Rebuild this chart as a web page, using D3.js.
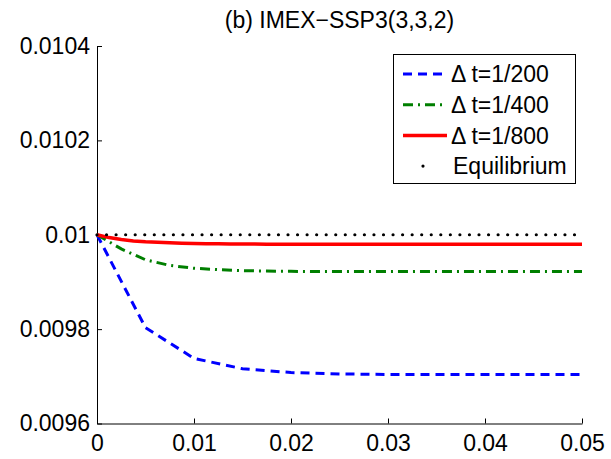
<!DOCTYPE html>
<html>
<head>
    <meta charset="utf-8">
    <style>
        body { margin: 0; background: #fff; }
        svg { font-family: "Liberation Sans", Arial, Helvetica, sans-serif; }
        .axis path, .axis line { stroke: #000; stroke-width: 1; }
        .axis text { font-size: 23px; fill: #000; font-family: "Liberation Sans", Arial, sans-serif; }
    </style>
    <script src="https://cdn.jsdelivr.net/npm/d3@7"></script>
</head>
<body>
<svg id="graph" width="611" height="459"></svg>
<script>
    // data
    var seriesNames = ['\u0394 t=1/200', '\u0394 t=1/400', '\u0394 t=1/800', 'Equilibrium'];
    var steps = [1 / 200, 1 / 400, 1 / 800];

    var blueValues = [0.01, 0.009803, 0.009738, 0.009716, 0.009708, 0.009705, 0.009704, 0.009704, 0.009704, 0.009704, 0.009704];

    var greenValues = [0.01, 0.00997, 0.009947, 0.009935, 0.009929, 0.009926, 0.009924, 0.009923, 0.0099225,
        0.009922, 0.009922, 0.009922, 0.009922, 0.009922, 0.009922, 0.009922, 0.009922, 0.009922, 0.009922, 0.009922, 0.009922];

    var redValues = [0.01, 0.009994, 0.00999, 0.009987, 0.009985, 0.009984, 0.009983, 0.009982, 0.0099815, 0.009981,
        0.0099807, 0.0099805, 0.0099803, 0.0099802, 0.0099801,
        0.00998, 0.00998, 0.00998, 0.00998, 0.00998, 0.00998, 0.00998, 0.00998, 0.00998, 0.00998,
        0.00998, 0.00998, 0.00998, 0.00998, 0.00998, 0.00998, 0.00998, 0.00998, 0.00998, 0.00998,
        0.00998, 0.00998, 0.00998, 0.00998, 0.00998, 0.00998];

    var equilibrium = 0.01;

    var xTicks = [0, 0.01, 0.02, 0.03, 0.04, 0.05];
    var xTickLabels = ['0', '0.01', '0.02', '0.03', '0.04', '0.05'];
    var yTicks = [0.0096, 0.0098, 0.01, 0.0102, 0.0104];
    var yTickLabels = ['0.0096', '0.0098', '0.01', '0.0102', '0.0104'];

    var svg = d3.select('#graph');

    var x = d3.scaleLinear().domain([0, 0.05]).range([97, 582]);
    var y = d3.scaleLinear().domain([0.0096, 0.0104]).range([423.5, 46]);

    // title
    svg.append('text')
        .attr('x', (x.range()[0] + x.range()[1]) / 2)
        .attr('y', 28)
        .attr('text-anchor', 'middle')
        .style('font-size', '23px')
        .text('(b) IMEX\u2212SSP3(3,3,2)');

    // axes (ticks pointing inwards, no box)
    svg.append('g')
        .attr('class', 'axis')
        .attr('transform', 'translate(0,' + y.range()[0] + ')')
        .call(d3.axisBottom(x)
            .tickValues(xTicks)
            .tickFormat((d, i) => xTickLabels[i])
            .tickSizeInner(-5)
            .tickSizeOuter(0)
            .tickPadding(11));

    svg.append('g')
        .attr('class', 'axis')
        .attr('transform', 'translate(' + x.range()[0] + ',0)')
        .call(d3.axisLeft(y)
            .tickValues(yTicks)
            .tickFormat((d, i) => yTickLabels[i])
            .tickSizeInner(-5)
            .tickSizeOuter(0)
            .tickPadding(7));

    var line = d3.line()
        .x(d => x(d.t))
        .y(d => y(d.v));

    function toPoints(values, step) {
        return values.map((v, i) => ({ t: i * step, v: v }));
    }

    var styles = [
        { color: '#0000ff', width: 3, dash: '9 6' },
        { color: '#007f00', width: 3, dash: '10 5 2 5' },
        { color: '#ff0000', width: 3.5, dash: null },
        { color: '#000000', width: 3.2, dash: '0 9.55' }
    ];

    var series = [blueValues, greenValues, redValues];
    series.forEach(function (vals, k) {
        svg.append('path')
            .datum(toPoints(vals, steps[k]))
            .attr('d', line)
            .attr('fill', 'none')
            .attr('stroke', styles[k].color)
            .attr('stroke-width', styles[k].width)
            .attr('stroke-dasharray', styles[k].dash);
    });

    // equilibrium dotted line
    svg.append('path')
        .datum([{ t: 0, v: equilibrium }, { t: 0.05, v: equilibrium }])
        .attr('d', line)
        .attr('fill', 'none')
        .attr('stroke', '#000')
        .attr('stroke-width', styles[3].width)
        .attr('stroke-linecap', 'round')
        .attr('stroke-dasharray', styles[3].dash);

    // legend
    var legend = svg.append('g');
    legend.append('rect')
        .attr('x', 393.5).attr('y', 54.5)
        .attr('width', 182).attr('height', 129)
        .attr('fill', '#fff').attr('stroke', '#000').attr('stroke-width', 1);

    seriesNames.forEach(function (name, k) {
        var ly = 74 + k * 30.7;
        if (k < 3) {
            legend.append('line')
                .attr('x1', 403).attr('x2', 447)
                .attr('y1', ly).attr('y2', ly)
                .attr('stroke', styles[k].color)
                .attr('stroke-width', styles[k].width)
                .attr('stroke-dasharray', styles[k].dash);
        } else {
            legend.append('circle')
                .attr('cx', 423).attr('cy', ly)
                .attr('r', 1.6).attr('fill', '#000');
        }
        legend.append('text')
            .attr('x', k < 3 ? 451 : 453)
            .attr('y', ly)
            .attr('dy', '0.36em')
            .style('font-size', '23px')
            .text(name);
    });
</script>
</body>
</html>
